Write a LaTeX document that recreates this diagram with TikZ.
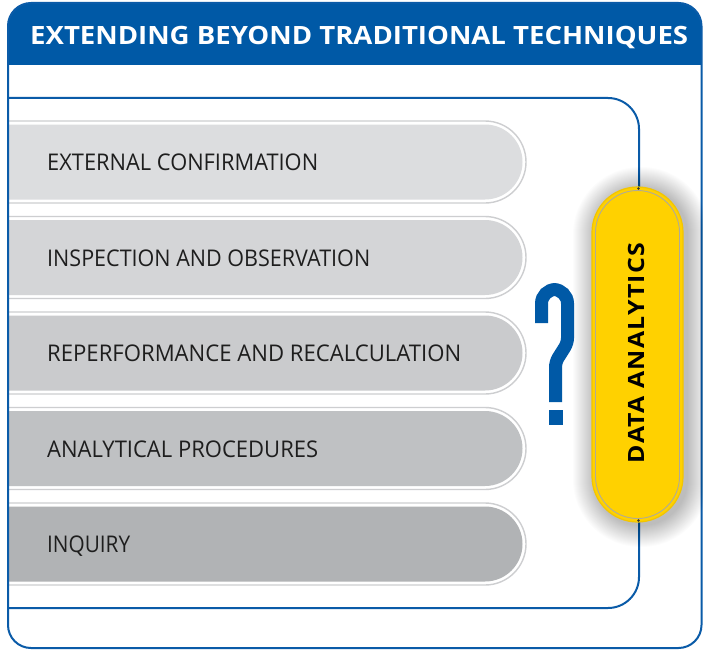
\documentclass[tikz,border=0pt]{standalone}
\usepackage{fontspec}
\usepackage{graphicx}
\setmainfont{Open Sans}
\definecolor{hdrblue}{HTML}{0059A6}
\definecolor{lineblue}{HTML}{0A5BA8}
\definecolor{barA}{HTML}{DCDDDF}
\definecolor{barB}{HTML}{D4D5D7}
\definecolor{barC}{HTML}{CACBCD}
\definecolor{barD}{HTML}{BFC1C3}
\definecolor{barE}{HTML}{B1B3B5}
\definecolor{barrim}{HTML}{CDCED0}
\definecolor{pillyellow}{HTML}{FFD100}
\definecolor{pillrim}{HTML}{F2C500}
\definecolor{pillgray}{HTML}{B0AA98}
\definecolor{lbltext}{HTML}{1E1E1E}
\newsavebox\fitsbox
\newlength\fitlen
\newcommand\fitw[2]{\sbox\fitsbox{#2}\setlength\fitlen{\wd\fitsbox}\pgfmathsetmacro\fitfac{#1/\fitlen}\scalebox{\fitfac}[1]{\usebox\fitsbox}}
\newcommand\drawbar[2]{%
  \draw[barline] (8,#1-41) -- (485,#1-41) arc[start angle=90,end angle=-90,radius=41pt] -- (8,#1+41);
  \fill[#2] (8,#1-37.5) -- (485,#1-37.5) arc[start angle=90,end angle=-90,radius=37.5pt] -- (8,#1+37.5) -- cycle;}
\begin{document}
\begin{tikzpicture}[x=1pt,y=-1pt,
  barline/.style={draw=barrim,line width=1.4pt},
  blueline/.style={draw=lineblue,line width=2pt},
  lbl/.style={anchor=base west,inner sep=0pt,text=lbltext,font=\fontsize{23}{23}\selectfont},
  qmark/.style={draw=hdrblue,line width=13pt},
]
\useasboundingbox (0,0) rectangle (703,650);
\fill[white] (0,0) rectangle (703,650);
% header
\begin{scope}
  \clip[rounded corners=23pt] (8,3) rectangle (701.5,648);
  \fill[hdrblue] (0,0) rectangle (703,65);
\end{scope}
\node[anchor=base west,inner sep=0pt,text=white,font=\bfseries\fontsize{25.2}{25.2}\selectfont] (title) at (30,45) {\fitw{658}{EXTENDING BEYOND TRADITIONAL TECHNIQUES}};
% bars
\drawbar{162}{barA}
\drawbar{257.5}{barB}
\drawbar{353}{barC}
\drawbar{448.5}{barD}
\drawbar{544}{barE}
\node[lbl] (l1) at (47,170.5) {\fitw{271}{EXTERNAL CONFIRMATION}};
\node[lbl] (l2) at (47,266) {\fitw{323}{INSPECTION AND OBSERVATION}};
\node[lbl] (l3) at (47,361.5) {\fitw{414}{REPERFORMANCE AND RECALCULATION}};
\node[lbl] (l4) at (47,457) {\fitw{271}{ANALYTICAL PROCEDURES}};
\node[lbl] (l5) at (47,552.5) {\fitw{83}{INQUIRY}};
% inner box
\draw[blueline] (8,98) -- (608,98) arc[start angle=90,end angle=0,radius=31pt] -- (639,577) arc[start angle=0,end angle=-90,radius=31pt] -- (8,608);
% outer box
\draw[blueline,rounded corners=23pt] (8,3) rectangle (701.5,648);
% question mark
\draw[qmark] (541.5,323) [rounded corners=14pt] -- (541.5,289.5) -- (567.5,289.5) [rounded corners=5pt] -- (567.5,343) -- (555.5,362) [sharp corners] -- (555.5,402);
\fill[hdrblue] (548.5,410) rectangle (562.5,425);
% soft shadow of the pill
\foreach \k in {1,...,22}{
  \pgfmathsetmacro\rr{45.5+\k}
  \fill[black,opacity=0.013,rounded corners=\rr pt] (595-\k,189-\k) rectangle (687+\k,525+\k);
}
% pill
\path[fill=pillyellow,draw=pillrim,line width=1.2pt,rounded corners=45.5pt] (592,187) rectangle (683,522);
\draw[pillgray,line width=0.9pt,rounded corners=42pt] (595.5,190.5) rectangle (679.5,518.5);
\fill[black!80] (638.5,188.5) circle (1.4);
\fill[black!80] (638.5,520.5) circle (1.4);
\node[rotate=90,inner sep=0pt,font=\bfseries\fontsize{22.4}{22.4}\selectfont] (pilltext) at (636,353) {\addfontfeature{LetterSpace=5}\fitw{220}{DATA ANALYTICS}};
\end{tikzpicture}
\end{document}
